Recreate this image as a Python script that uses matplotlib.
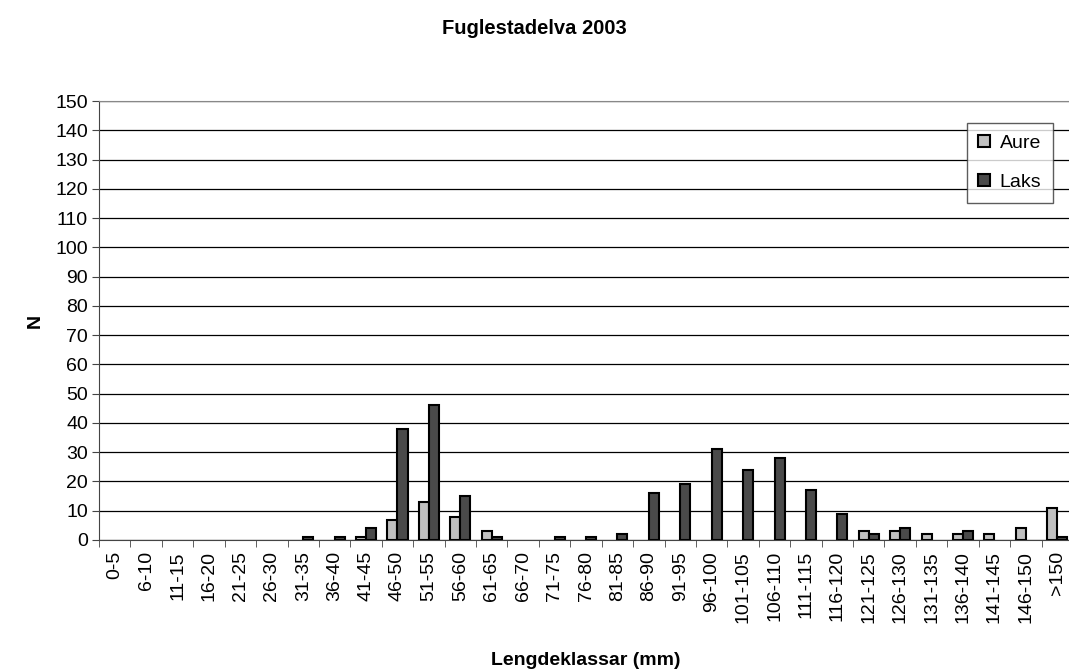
import numpy as np
import matplotlib
matplotlib.use("Agg")
import matplotlib.pyplot as plt

plt.rcParams['font.family'] = ['Liberation Sans', 'DejaVu Sans']

categories = ['0-5', '6-10', '11-15', '16-20', '21-25', '26-30', '31-35', '36-40',
              '41-45', '46-50', '51-55', '56-60', '61-65', '66-70', '71-75', '76-80',
              '81-85', '86-90', '91-95', '96-100', '101-105', '106-110', '111-115',
              '116-120', '121-125', '126-130', '131-135', '136-140', '141-145',
              '146-150', '>150']
aure = [0, 0, 0, 0, 0, 0, 0, 0, 1, 7, 13, 8, 3, 0, 0, 0,
        0, 0, 0, 0, 0, 0, 0, 0, 3, 3, 2, 2, 2, 4, 11]
laks = [0, 0, 0, 0, 0, 0, 1, 1, 4, 38, 46, 15, 1, 0, 1, 1,
        2, 16, 19, 31, 24, 28, 17, 9, 2, 4, 0, 3, 0, 0, 1]

fig = plt.figure(figsize=(10.69, 6.70), dpi=100)
ax = fig.add_axes([99 / 1069, 130 / 670, 974 / 1069, 439 / 670])

x = np.arange(len(categories))
w = 0.32
# zero counts are not drawn in the original
a = np.array(aure, dtype=float)
l = np.array(laks, dtype=float)
ma = a > 0
ml = l > 0
ax.bar(x[ma] - w / 2, a[ma], w, color='#c0c0c0', edgecolor='black', linewidth=1.5,
       label='Aure', zorder=3)
ax.bar(x[ml] + w / 2, l[ml], w, color='#4a4a4a', edgecolor='black', linewidth=1.5,
       label='Laks', zorder=3)

ax.set_xlim(-0.5, len(categories) - 0.5)
ax.set_ylim(0, 150)
ax.set_yticks(range(0, 151, 10))
ax.yaxis.grid(True, color='black', linewidth=0.9)
ax.set_axisbelow(True)

ax.set_xticks(x)
ax.set_xticklabels(categories, rotation=90, fontsize=14)
ax.tick_params(axis='x', length=0, pad=8)
ax.set_xticks(np.arange(-0.5, len(categories), 1), minor=True)
ax.tick_params(axis='x', which='minor', length=5, direction='out', color='#444444')
ax.tick_params(axis='y', labelsize=14, length=5, color='#444444', pad=3)

for side in ['top', 'right']:
    ax.spines[side].set_color('#888888')
ax.spines['bottom'].set_color('#444444')
ax.spines['left'].set_color('#444444')

ax.set_xlabel('Lengdeklassar (mm)', fontsize=14, fontweight='bold', labelpad=21)
ax.set_ylabel('N', fontsize=14, fontweight='bold', labelpad=8)
fig.suptitle('Fuglestadelva 2003', fontsize=14.5, fontweight='bold', y=0.972)

leg = ax.legend(loc='upper right', bbox_to_anchor=(1053 / 1069, 547 / 670),
                bbox_transform=fig.transFigure, fontsize=14, frameon=True,
                fancybox=False, edgecolor='#333333', handlelength=0.6,
                handleheight=0.6, handletextpad=0.5, borderpad=0.6,
                borderaxespad=0, labelspacing=1.15)
leg.get_frame().set_linewidth(1)

fig.savefig('out.png', dpi=100)
